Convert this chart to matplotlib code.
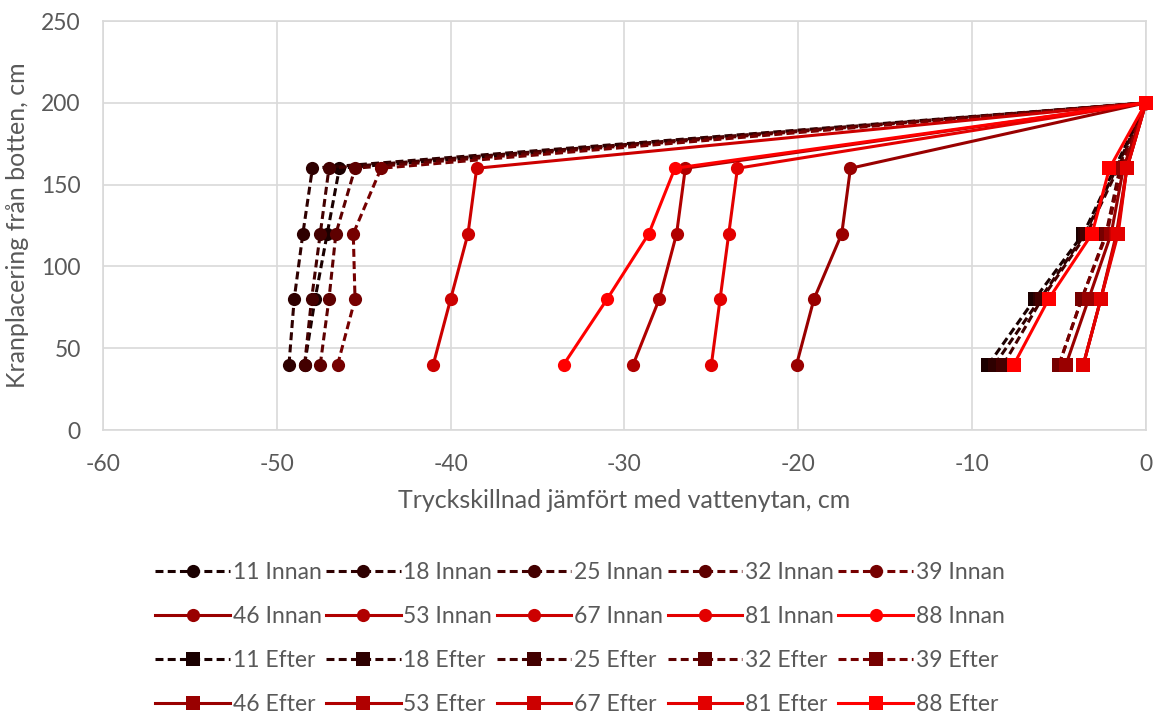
import numpy as np
import matplotlib.pyplot as plt

plt.rcParams['font.family'] = ['Lato', 'DejaVu Sans']
plt.rcParams['axes.unicode_minus'] = False

# Mätpunkternas höjd (cm från botten)
heights = [40, 80, 120, 160, 200]

labels_nr = ['11', '18', '25', '32', '39', '46', '53', '67', '81', '88']
colors = ['#1a0000', '#2e0000', '#430000', '#5e0000', '#760000',
          '#990000', '#b00000', '#cc0000', '#e30000', '#ff0000']

# Tryckskillnad innan (cm)
innan_11 = [-48.4, -47.8, -47.1, -46.4, 0]
innan_18 = [-49.3, -49.0, -48.5, -47.95, 0]
innan_25 = [-48.4, -48.0, -47.5, -47.0, 0]
innan_32 = [-47.5, -47.0, -46.6, -45.5, 0]
innan_39 = [-46.5, -45.5, -45.6, -44.0, 0]
innan_46 = [-20.1, -19.1, -17.5, -17.0, 0]
innan_53 = [-29.5, -28.0, -27.0, -26.5, 0]
innan_67 = [-41.0, -40.0, -39.0, -38.5, 0]
innan_81 = [-25.0, -24.5, -24.0, -23.5, 0]
innan_88 = [-33.5, -31.0, -28.6, -27.1, 0]

# Tryckskillnad efter (cm)
efter_11 = [-9.06, -6.4, -3.6, -1.8, 0]
efter_18 = [-8.7, -6.1, -3.5, -1.7, 0]
efter_25 = [-8.2, -6.0, -3.4, -1.6, 0]
efter_32 = [-5.0, -3.7, -2.3, -1.5, 0]
efter_39 = [-5.0, -3.7, -2.25, -1.4, 0]
efter_46 = [-4.6, -3.3, -2.0, -1.3, 0]
efter_53 = [-3.6, -2.6, -1.7, -1.1, 0]
efter_67 = [-3.6, -2.6, -1.65, -1.1, 0]
efter_81 = [-3.6, -2.6, -1.6, -1.1, 0]
efter_88 = [-7.6, -5.6, -3.1, -2.1, 0]

innan = [innan_11, innan_18, innan_25, innan_32, innan_39,
         innan_46, innan_53, innan_67, innan_81, innan_88]
efter = [efter_11, efter_18, efter_25, efter_32, efter_39,
         efter_46, efter_53, efter_67, efter_81, efter_88]

fig = plt.figure(figsize=(11.53, 7.15), dpi=100)
ax = fig.add_axes([0.0893, 0.3986, 0.9046, 0.572])

lw = 2.2
handles = []
z = 3
for kind, data, marker, ms in [('Innan', innan, 'o', 9.5), ('Efter', efter, 's', 9.5)]:
    for i, vals in enumerate(data):
        ls = (0, (2.6, 1.4)) if i < 5 else '-'
        h, = ax.plot(vals, heights, linestyle=ls, color=colors[i], lw=lw,
                     marker=marker, markersize=ms, markeredgewidth=0,
                     label=labels_nr[i] + ' ' + kind, zorder=z, clip_on=False)
        z += 0.1
        handles.append(h)

ax.set_xlim(-60, 0)
ax.set_ylim(0, 250)
ax.set_xticks(np.arange(-60, 1, 10))
ax.set_yticks(np.arange(0, 251, 50))
ax.grid(True, color='#d9d9d9', lw=1.2)
ax.set_axisbelow(True)
for s in ax.spines.values():
    s.set_color('#d9d9d9')
    s.set_linewidth(1.2)
ax.tick_params(length=0, labelsize=16.5, labelcolor='#595959')
ax.tick_params(axis='x', pad=17)
ax.tick_params(axis='y', pad=16)
ax.set_xlabel('Tryckskillnad jämfört med vattenytan, cm', fontsize=18,
              color='#595959', labelpad=10)
ax.set_ylabel('Kranplacering från botten, cm', fontsize=18,
              color='#595959', labelpad=9)

# legenden fylls kolumnvis, så ordna om för radvis ordning
order = []
for j in range(5):
    order += [j, 5 + j, 10 + j, 15 + j]
leg = fig.legend([handles[k] for k in order], [handles[k].get_label() for k in order],
                 loc='center', bbox_to_anchor=(0.503, 0.107), ncol=5, frameon=False,
                 fontsize=16.5, handlelength=3.25, handletextpad=0.12,
                 columnspacing=0.2, labelspacing=1.0)
for t in leg.get_texts():
    t.set_color('#595959')

fig.savefig('out.png', dpi=100)
